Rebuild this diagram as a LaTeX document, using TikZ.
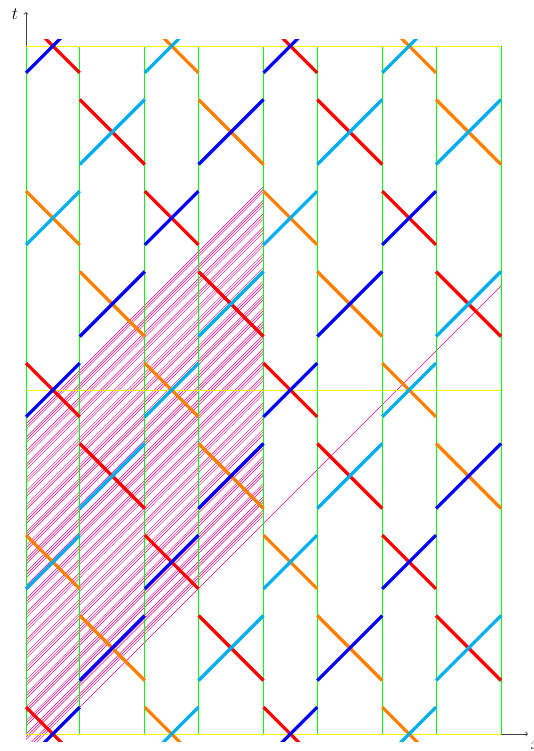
\documentclass[tikz,border=0pt]{standalone}
\usepackage{xcolor}
\definecolor{cR}{RGB}{255,0,0}
\definecolor{cB}{RGB}{0,0,255}
\definecolor{cC}{RGB}{0,174,239}
\definecolor{cO}{RGB}{255,128,0}
\definecolor{cG}{RGB}{0,255,0}
\definecolor{cY}{RGB}{255,242,0}
\definecolor{cM}{RGB}{236,0,140}
\begin{document}
\begin{tikzpicture}[x=1pt,y=-1pt,
  worldline/.style={line width=3.2pt},
  wall/.style={draw=cG,line width=0.9pt},
  slice/.style={draw=cY,line width=0.9pt},
  hatchline/.style={draw=cM,line width=0.45pt},
  axisline/.style={draw=black!75,line width=0.8pt,->}]
\useasboundingbox (0,0) rectangle (533,751);
% axes
\coordinate (O) at (26,734);
\coordinate (T) at (26,12);
\coordinate (X) at (528,734);
\draw[axisline] (O) -- (T);
\draw[axisline] (O) -- (X);
\node (tlab) at (15,14) {\fontsize{17}{20}\selectfont $t$};
\node (xlab) at (535.5,746) {\fontsize{17}{20}\selectfont $x$};
\begin{scope}
\clip (0,40) rectangle (533,741);
% hatched family of lines
\foreach \g in {0,...,24}{
  \foreach \j in {0,1,2}{
    \draw[hatchline] (26,424+13.48*\g+2.7*\j) -- ++(238,-238);
  }
}
\coordinate (L0) at (26,761);
\coordinate (L1) at (501,286);
\draw[hatchline] (L0) -- (L1);
\end{scope}
% vertical walls
\foreach \x in {26,79.75,144.75,198.5,263.5,317.25,382.25,436,501}{
  \draw[wall] (\x,46) -- (\x,734);
}
% time slices
\foreach \y in {46,390,734}{
  \draw[slice] (26,\y) -- (501,\y);
}
\begin{scope}
\clip (0,40) rectangle (533,741);
% narrow columns
\foreach \xl/\xr/\pat in {26/79.75/0, 144.75/198.5/1, 263.5/317.25/0, 382.25/436/1}{
  \foreach \k in {0,...,4}{
    \pgfmathtruncatemacro\s{mod(\k+\pat,2)}
    \ifnum\s=0 \def\cd{cR}\def\cu{cB}\else\def\cd{cO}\def\cu{cC}\fi
    \pgfmathsetmacro\yc{46+172*\k}
    \pgfmathsetmacro\h{(\xr-\xl)/2}
    \draw[worldline,draw=\cd] (\xl,\yc-\h) -- (\xr,\yc+\h);
    \draw[worldline,draw=\cu] (\xl,\yc+\h) -- (\xr,\yc-\h);
  }
}
% wide columns
\foreach \xl/\xr/\pat in {79.75/144.75/0, 198.5/263.5/1, 317.25/382.25/0, 436/501/1}{
  \foreach \k in {0,...,3}{
    \pgfmathtruncatemacro\s{mod(\k+\pat,2)}
    \ifnum\s=0 \def\cd{cR}\def\cu{cC}\else\def\cd{cO}\def\cu{cB}\fi
    \ifdim\xl pt=436pt \ifnum\k=0 \def\cu{cC}\fi\fi
    \pgfmathsetmacro\yc{132+172*\k}
    \pgfmathsetmacro\h{(\xr-\xl)/2}
    \draw[worldline,draw=\cd] (\xl,\yc-\h) -- (\xr,\yc+\h);
    \draw[worldline,draw=\cu] (\xl,\yc+\h) -- (\xr,\yc-\h);
  }
}
\end{scope}
\end{tikzpicture}
\end{document}
